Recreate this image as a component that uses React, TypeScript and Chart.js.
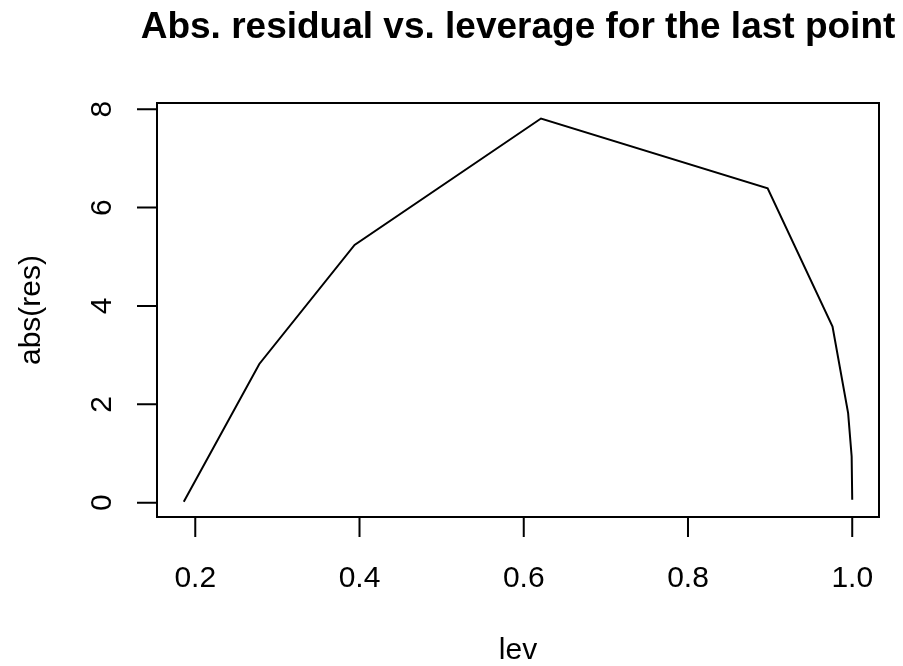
import React, { useEffect, useRef } from "react";
import { Chart, registerables } from "chart.js";

Chart.register(...registerables);

const lev = [0.186, 0.278, 0.394, 0.621, 0.897, 0.976, 0.995, 0.9993, 1.0];
const absRes = [0.02, 2.82, 5.24, 7.81, 6.39, 3.58, 1.82, 0.94, 0.06];
const xTicks = [0.2, 0.4, 0.6, 0.8, 1.0];
const xTickLabels = ["0.2", "0.4", "0.6", "0.8", "1.0"];
const yTicks = [0, 2, 4, 6, 8];
const yTickLabels = ["0", "2", "4", "6", "8"];
const titleText = "Abs. residual vs. leverage for the last point";
const xTitle = "lev";
const yTitle = "abs(res)";

const FONT = '"Liberation Sans", Arial, Helvetica, sans-serif';

const rAxesPlugin = {
  id: "rAxes",
  afterDraw(chart: any) {
    const ctx = chart.ctx as CanvasRenderingContext2D;
    const area = chart.chartArea;
    const xs = chart.scales.x;
    const ys = chart.scales.y;
    ctx.save();
    ctx.strokeStyle = "#000";
    ctx.fillStyle = "#000";
    ctx.lineWidth = 2;
    // box
    ctx.strokeRect(area.left, area.top, area.right - area.left, area.bottom - area.top);
    const tickLen = 20;
    ctx.beginPath();
    // x axis
    const x0 = xs.getPixelForValue(xTicks[0]);
    const x1 = xs.getPixelForValue(xTicks[xTicks.length - 1]);
    ctx.moveTo(x0, area.bottom);
    ctx.lineTo(x1, area.bottom);
    xTicks.forEach((v) => {
      const px = xs.getPixelForValue(v);
      ctx.moveTo(px, area.bottom);
      ctx.lineTo(px, area.bottom + tickLen);
    });
    // y axis
    const y0 = ys.getPixelForValue(yTicks[0]);
    const y1 = ys.getPixelForValue(yTicks[yTicks.length - 1]);
    ctx.moveTo(area.left, y0);
    ctx.lineTo(area.left, y1);
    yTicks.forEach((v) => {
      const py = ys.getPixelForValue(v);
      ctx.moveTo(area.left, py);
      ctx.lineTo(area.left - tickLen, py);
    });
    ctx.stroke();

    ctx.font = `30px ${FONT}`;
    ctx.textAlign = "center";
    ctx.textBaseline = "alphabetic";
    xTicks.forEach((v, i) => {
      ctx.fillText(xTickLabels[i], xs.getPixelForValue(v), 587);
    });
    yTicks.forEach((v, i) => {
      ctx.save();
      ctx.translate(111, ys.getPixelForValue(v));
      ctx.rotate(-Math.PI / 2);
      ctx.fillText(yTickLabels[i], 0, 0);
      ctx.restore();
    });
    const cx = (area.left + area.right) / 2;
    const cy = (area.top + area.bottom) / 2;
    ctx.fillText(xTitle, cx, 659);
    ctx.save();
    ctx.translate(39.5, cy);
    ctx.rotate(-Math.PI / 2);
    ctx.fillText(yTitle, 0, 0);
    ctx.restore();

    ctx.font = `bold 37px ${FONT}`;
    ctx.fillText(titleText, cx, 37.5);
    ctx.restore();
  },
};

export default function App() {
  const ref = useRef<HTMLCanvasElement | null>(null);
  useEffect(() => {
    if (!ref.current) return;
    const chart = new Chart(ref.current, {
      type: "scatter",
      data: {
        datasets: [
          {
            data: lev.map((x, i) => ({ x, y: absRes[i] })),
            showLine: true,
            borderColor: "#000",
            borderWidth: 2,
            pointRadius: 0,
            fill: false,
            tension: 0,
          },
        ],
      },
      options: {
        animation: false,
        responsive: false,
        devicePixelRatio: 1,
        layout: { padding: { left: 157, right: 24, top: 103, bottom: 149 } },
        plugins: { legend: { display: false }, tooltip: { enabled: false }, title: { display: false } },
        scales: {
          x: { type: "linear", min: 0.1534, max: 1.0326, display: false },
          y: { type: "linear", min: -0.29, max: 8.125, display: false },
        },
      },
      plugins: [rAxesPlugin],
    });
    return () => chart.destroy();
  }, []);
  return (
    <div style={{ position: "fixed", left: 0, top: 0, width: 903, height: 666, background: "#fff" }}>
      <canvas ref={ref} width={903} height={666} />
    </div>
  );
}
